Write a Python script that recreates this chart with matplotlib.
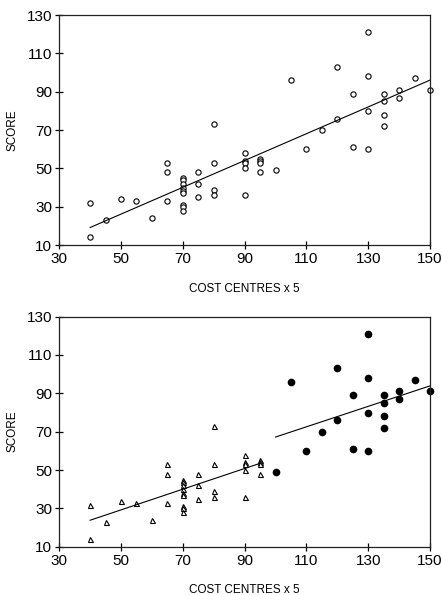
import numpy as np
import matplotlib
matplotlib.use("Agg")
import matplotlib.pyplot as plt

plt.rcParams['font.family'] = ['Liberation Sans', 'DejaVu Sans']

# cost centres (x 5) and score
cost = [40, 40, 45, 50, 55, 60, 65, 65, 65,
        70, 70, 70, 70, 70, 70, 70, 70, 70,
        75, 75, 75, 80, 80, 80, 80,
        90, 90, 90, 90, 90, 95, 95, 95, 95,
        100, 105, 110, 115, 120, 120, 125, 125,
        130, 130, 130, 130, 135, 135, 135, 135,
        140, 140, 145, 150]
score = [32, 14, 23, 34, 33, 24, 53, 48, 33,
         45, 44, 42, 40, 38, 37, 31, 30, 28,
         48, 42, 35, 73, 53, 39, 36,
         58, 54, 53, 50, 36, 55, 54, 53, 48,
         49, 96, 60, 70, 103, 76, 89, 61,
         121, 98, 80, 60, 89, 85, 78, 72,
         91, 87, 97, 91]

# fitted lines (end points)
fit_all_x = [40, 150]
fit_all_y = [19.2, 96.1]
fit_low_x = [40, 95]
fit_low_y = [23.8, 53.5]
fit_high_x = [100, 150]
fit_high_y = [67.2, 93.9]

split = 97.5

xticks = [30, 50, 70, 90, 110, 130, 150]
yticks = [10, 30, 50, 70, 90, 110, 130]

x = np.array(cost)
y = np.array(score)
low = x < split

fig = plt.figure(figsize=(4.42, 5.95), dpi=100)
ax1 = fig.add_axes([0.134, 0.588, 0.839, 0.3866])
ax2 = fig.add_axes([0.134, 0.0812, 0.839, 0.3866])


def style(ax):
    ax.set_xlim(30, 150)
    ax.set_ylim(10, 130)
    ax.set_xticks(xticks)
    ax.set_yticks(yticks)
    ax.tick_params(direction='inout', length=6, width=0.9, labelsize=11, pad=2)
    for s in ax.spines.values():
        s.set_linewidth(0.9)
        s.set_color('#222222')
    ax.set_xlabel('COST CENTRES x 5', fontsize=8.5, labelpad=12)
    ax.set_ylabel('SCORE', fontsize=8.5, labelpad=6)


ax1.plot(x, y, 'o', ms=3.8, mfc='white', mec='black', mew=0.8, clip_on=False)
ax1.plot(fit_all_x, fit_all_y, color='black', lw=0.8)
style(ax1)

ax2.plot(x[low], y[low], '^', ms=3.6, mfc='white', mec='black', mew=0.8, clip_on=False)
ax2.plot(x[~low], y[~low], 'o', ms=4.5, mfc='black', mec='black', clip_on=False)
ax2.plot(fit_low_x, fit_low_y, color='black', lw=0.8)
ax2.plot(fit_high_x, fit_high_y, color='black', lw=0.8)
style(ax2)

fig.savefig('out.png', dpi=100)
